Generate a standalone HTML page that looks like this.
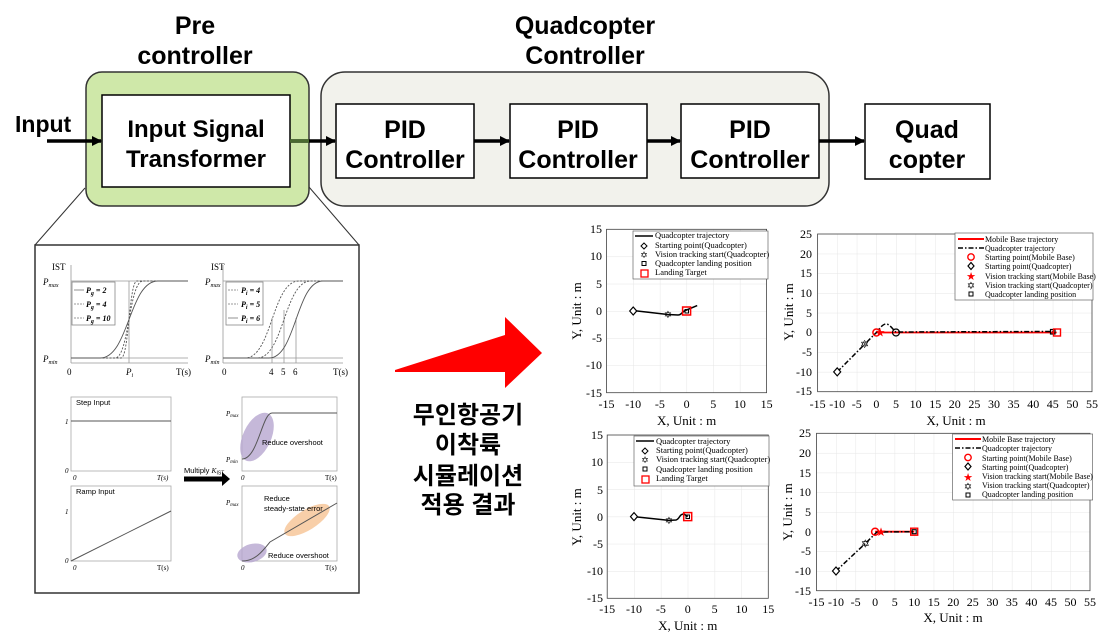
<!DOCTYPE html>
<html><head><meta charset="utf-8"><style>
html,body{margin:0;padding:0;background:#fff;}
svg{display:block;}
.b{font-family:"Liberation Sans",sans-serif;font-weight:bold;fill:#000;}
.s{font-family:"Liberation Serif",serif;fill:#000;}
.k{font-family:"Liberation Sans","Noto Sans CJK KR",sans-serif;font-weight:bold;fill:#000;}
</style></head><body>
<svg width="1100" height="633" viewBox="0 0 1100 633" xmlns="http://www.w3.org/2000/svg">
<defs>
<marker id="ah" markerWidth="10" markerHeight="10" refX="9" refY="5" orient="auto" markerUnits="userSpaceOnUse"><path d="M0,0 L10,5 L0,10 z" fill="#000"/></marker>
<pattern id="g1" x="606.5" y="229.3" width="26.68" height="27.23" patternUnits="userSpaceOnUse"><path d="M0,0 V27.23 M0,0 H26.68" stroke="#e6e6e6" stroke-width="1" fill="none"/></pattern>
<pattern id="g2" x="817.6" y="234" width="19.6" height="19.7" patternUnits="userSpaceOnUse"><path d="M0,0 V19.7 M0,0 H19.6" stroke="#e6e6e6" stroke-width="1" fill="none"/></pattern>
<pattern id="g3" x="607.2" y="435" width="26.85" height="27.2" patternUnits="userSpaceOnUse"><path d="M0,0 V27.2 M0,0 H26.85" stroke="#e6e6e6" stroke-width="1" fill="none"/></pattern>
<pattern id="g4" x="816.5" y="433.3" width="19.54" height="19.68" patternUnits="userSpaceOnUse"><path d="M0,0 V19.68 M0,0 H19.54" stroke="#e6e6e6" stroke-width="1" fill="none"/></pattern>
</defs>

<!-- Top block diagram -->
<text class="b" x="195" y="34" font-size="25" text-anchor="middle">Pre</text>
<text class="b" x="195" y="64" font-size="25" text-anchor="middle">controller</text>
<text class="b" x="585" y="34" font-size="25" text-anchor="middle">Quadcopter</text>
<text class="b" x="585" y="64" font-size="25" text-anchor="middle">Controller</text>

<rect x="86" y="72" width="223" height="134" rx="16" fill="#cfe8a9" stroke="#333" stroke-width="1.5"/>
<rect x="102" y="95" width="188" height="92" fill="#fff" stroke="#000" stroke-width="1.5"/>
<text class="b" x="196" y="137" font-size="24" text-anchor="middle">Input Signal</text>
<text class="b" x="196" y="167" font-size="24" text-anchor="middle">Transformer</text>

<rect x="321" y="72" width="508" height="134" rx="24" fill="#f2f2ec" stroke="#333" stroke-width="1.5"/>
<rect x="336" y="104" width="138" height="74" fill="#fff" stroke="#000" stroke-width="1.5"/>
<rect x="510" y="104" width="137" height="74" fill="#fff" stroke="#000" stroke-width="1.5"/>
<rect x="681" y="104" width="138" height="74" fill="#fff" stroke="#000" stroke-width="1.5"/>
<rect x="865" y="104" width="125" height="75" fill="#fff" stroke="#000" stroke-width="1.5"/>
<text class="b" x="405" y="138" font-size="25" text-anchor="middle">PID</text>
<text class="b" x="405" y="168" font-size="25" text-anchor="middle">Controller</text>
<text class="b" x="578" y="138" font-size="25" text-anchor="middle">PID</text>
<text class="b" x="578" y="168" font-size="25" text-anchor="middle">Controller</text>
<text class="b" x="750" y="138" font-size="25" text-anchor="middle">PID</text>
<text class="b" x="750" y="168" font-size="25" text-anchor="middle">Controller</text>
<text class="b" x="927" y="138" font-size="25" text-anchor="middle">Quad</text>
<text class="b" x="927" y="168" font-size="25" text-anchor="middle">copter</text>

<text class="b" x="15" y="132" font-size="23">Input</text>
<g stroke="#000" stroke-width="3.5" marker-end="url(#ah)">
<line x1="47" y1="141" x2="101" y2="141"/>
<line x1="290" y1="141" x2="335" y2="141"/>
<line x1="474" y1="141" x2="509" y2="141"/>
<line x1="647" y1="141" x2="680" y2="141"/>
<line x1="819" y1="141" x2="864" y2="141"/>
</g>
<line x1="290" y1="141" x2="309" y2="141" stroke="#4a6a30" stroke-width="3.5"/>

<!-- inset -->
<line x1="85" y1="188" x2="35" y2="245" stroke="#333" stroke-width="1"/>
<line x1="309" y1="187" x2="359" y2="245" stroke="#333" stroke-width="1"/>
<rect x="35" y="245" width="324" height="348" fill="#fff" stroke="#333" stroke-width="1.5"/>

<g class="s" font-size="9">
<text x="52" y="270">IST</text>
<text x="43" y="285" font-style="italic">P<tspan font-size="6" dy="2">max</tspan></text>
<text x="43" y="362" font-style="italic">P<tspan font-size="6" dy="2">min</tspan></text>
<text x="67" y="375">0</text>
<text x="126" y="375" font-style="italic">P<tspan font-size="6" dy="2">i</tspan></text>
<text x="176" y="375">T(s)</text>
<text x="211" y="270">IST</text>
<text x="205" y="285" font-style="italic">P<tspan font-size="6" dy="2">max</tspan></text>
<text x="205" y="362" font-style="italic">P<tspan font-size="6" dy="2">min</tspan></text>
<text x="222" y="375">0</text>
<text x="269" y="375">4</text>
<text x="281" y="375">5</text>
<text x="293" y="375">6</text>
<text x="333" y="375">T(s)</text>
</g>
<g stroke="#999" stroke-width="0.8" fill="none">
<line x1="71" y1="265" x2="71" y2="363"/><line x1="71" y1="363" x2="188" y2="363"/>
<line x1="71" y1="281" x2="188" y2="281"/><line x1="71" y1="358" x2="188" y2="358"/>
<line x1="129" y1="281" x2="129" y2="363"/>
<line x1="223" y1="265" x2="223" y2="363"/><line x1="223" y1="363" x2="343" y2="363"/>
<line x1="223" y1="281" x2="343" y2="281"/><line x1="223" y1="358" x2="343" y2="358"/>
<line x1="272" y1="318" x2="272" y2="363"/><line x1="284" y1="310" x2="284" y2="363"/><line x1="296" y1="318" x2="296" y2="363"/>
</g>
<g stroke="#555" stroke-width="0.9" fill="none">
<path d="M71,358 L100,358 C129,358 129,281 158,281 L188,281"/>
<path d="M71,358 L115,358 C129,358 129,281 143,281 L188,281" stroke-dasharray="2,1.5"/>
<path d="M71,358 L121,358 C129,358 129,281 137,281 L188,281" stroke-dasharray="2,1.5"/>
<path d="M223,358 L245,358 C272,358 272,281 299,281 L343,281" stroke-dasharray="2,1.5"/>
<path d="M223,358 L257,358 C284,358 284,281 311,281 L343,281" stroke-dasharray="2,1.5"/>
<path d="M223,358 L269,358 C296,358 296,281 323,281 L343,281"/>
</g>
<rect x="72" y="282" width="43" height="43" fill="#fff" stroke="#888" stroke-width="0.8"/>
<rect x="226" y="282" width="37" height="43" fill="#fff" stroke="#888" stroke-width="0.8"/>
<g class="s" font-size="8" font-weight="bold" font-style="italic">
<text x="86" y="293">P<tspan font-size="6" dy="2">g</tspan><tspan dy="-2"> = 2</tspan></text>
<text x="86" y="307">P<tspan font-size="6" dy="2">g</tspan><tspan dy="-2"> = 4</tspan></text>
<text x="86" y="321">P<tspan font-size="6" dy="2">g</tspan><tspan dy="-2"> = 10</tspan></text>
<text x="241" y="293">P<tspan font-size="6" dy="2">i</tspan><tspan dy="-2"> = 4</tspan></text>
<text x="241" y="307">P<tspan font-size="6" dy="2">i</tspan><tspan dy="-2"> = 5</tspan></text>
<text x="241" y="321">P<tspan font-size="6" dy="2">i</tspan><tspan dy="-2"> = 6</tspan></text>
</g>
<g stroke="#777" stroke-width="0.8">
<line x1="74" y1="290" x2="84" y2="290"/><line x1="74" y1="304" x2="84" y2="304" stroke-dasharray="2,1"/><line x1="74" y1="318" x2="84" y2="318" stroke-dasharray="2,1"/>
<line x1="228" y1="290" x2="238" y2="290" stroke-dasharray="2,1"/><line x1="228" y1="304" x2="238" y2="304" stroke-dasharray="2,1"/><line x1="228" y1="318" x2="238" y2="318"/>
</g>

<g fill="none" stroke="#aaa" stroke-width="0.8">
<rect x="71" y="397" width="100" height="74"/>
<rect x="71" y="486" width="100" height="75"/>
<rect x="242" y="397" width="95" height="74"/>
<rect x="242" y="486" width="95" height="75"/>
</g>
<ellipse cx="257" cy="437" rx="14" ry="26" transform="rotate(25 257 437)" fill="#b7a6cf" opacity="0.8"/>
<ellipse cx="307" cy="520" rx="26" ry="10" transform="rotate(-32 307 520)" fill="#f7c79a" opacity="0.85"/>
<ellipse cx="252" cy="553" rx="15" ry="9" transform="rotate(-15 252 553)" fill="#b7a6cf" opacity="0.8"/>
<g stroke="#555" stroke-width="1" fill="none">
<line x1="71" y1="421" x2="171" y2="421"/>
<line x1="71" y1="561" x2="171" y2="511"/>
<path d="M242,459 C258,459 262,413 272,413 L337,413"/>
<path d="M242,561 C255,561 262,552 270,542 L337,503"/>
</g>
<g font-family="Liberation Sans,sans-serif" font-size="7.5" fill="#000">
<text x="76" y="405">Step Input</text>
<text x="76" y="494">Ramp Input</text>
<text x="262" y="445">Reduce overshoot</text>
<text x="264" y="501">Reduce</text>
<text x="264" y="511">steady-state error</text>
<text x="268" y="558">Reduce overshoot</text>
<text x="184" y="473">Multiply <tspan font-style="italic" font-family="Liberation Serif,serif">K</tspan><tspan font-size="5" dy="1.5">IST</tspan></text>
</g>
<g class="s" font-size="7" font-style="italic">
<text x="65" y="424">1</text><text x="65" y="473">0</text><text x="73" y="480">0</text><text x="157" y="480">T(s)</text>
<text x="65" y="514">1</text><text x="65" y="563">0</text><text x="73" y="570">0</text><text x="157" y="570" font-style="normal">T(s)</text>
<text x="226" y="416">P<tspan font-size="5" dy="1">max</tspan></text>
<text x="226" y="462">P<tspan font-size="5" dy="1">min</tspan></text>
<text x="241" y="480">0</text><text x="325" y="480" font-style="normal">T(s)</text>
<text x="226" y="505">P<tspan font-size="5" dy="1">max</tspan></text>
<text x="241" y="570">0</text><text x="325" y="570" font-style="normal">T(s)</text>
</g>
<line x1="184" y1="479" x2="222" y2="479" stroke="#000" stroke-width="5"/>
<path d="M222,472 L230,479 L222,486 z" fill="#000"/>

<polygon points="395,370 505,335 505,317 542,353 505,388 505,372 395,372" fill="#ff0000"/>
<g class="k" font-size="24" text-anchor="middle">
<text x="468" y="423">무인항공기</text>
<text x="468" y="453">이착륙</text>
<text x="468" y="484">시뮬레이션</text>
<text x="468" y="513">적용 결과</text>
</g>

<!-- Plot TL -->
<rect x="606.5" y="229.3" width="160.1" height="163.4" fill="url(#g1)" stroke="#444" stroke-width="0.8"/>
<g class="s" font-size="12" text-anchor="end">
<text x="602" y="233">15</text><text x="602" y="260">10</text><text x="602" y="288">5</text><text x="602" y="315">0</text><text x="602" y="342">-5</text><text x="602" y="369">-10</text><text x="602" y="397">-15</text>
</g>
<g class="s" font-size="12" text-anchor="middle">
<text x="606.5" y="408">-15</text><text x="633.2" y="408">-10</text><text x="659.9" y="408">-5</text><text x="686.6" y="408">0</text><text x="713.2" y="408">5</text><text x="739.9" y="408">10</text><text x="766.6" y="408">15</text>
<text x="686.6" y="425" font-size="13">X, Unit : m</text>
<text x="0" y="0" font-size="13" transform="translate(581,311) rotate(-90)">Y, Unit : m</text>
</g>
<rect x="633" y="231" width="135" height="48" fill="#fff" stroke="#666" stroke-width="0.7"/>
<g class="s" font-size="8.5">
<text x="655" y="238">Quadcopter trajectory</text>
<text x="655" y="248">Starting point(Quadcopter)</text>
<text x="655" y="257">Vision tracking start(Quadcopter)</text>
<text x="655" y="266">Quadcopter landing position</text>
<text x="655" y="275">Landing Target</text>
</g>
<line x1="635" y1="236" x2="653" y2="236" stroke="#000" stroke-width="1.5"/>
<path d="M644,243 l3,3 l-3,3 l-3,-3z" fill="none" stroke="#000"/>
<text x="644" y="258" font-size="9" text-anchor="middle">✡</text>
<rect x="642" y="261.5" width="4" height="4" fill="none" stroke="#000"/>
<rect x="641" y="270" width="7" height="7" fill="none" stroke="#f00" stroke-width="1.3"/>
<path d="M633.2,310.5 L667.9,314.5 L678,315 C682,315 682,311 686.6,310 L697.2,305.6" fill="none" stroke="#000" stroke-width="1.5"/>
<path d="M633.2,307 l3.5,4 l-3.5,4 l-3.5,-4z" fill="#fff" stroke="#000" stroke-width="1.2"/>
<text x="668" y="318" font-size="10" text-anchor="middle">✡</text>
<rect x="682.6" y="307" width="8" height="8" fill="none" stroke="#f00" stroke-width="1.5"/>
<rect x="685" y="309.5" width="3.5" height="3.5" fill="none" stroke="#000"/>

<!-- Plot TR -->
<rect x="817.6" y="234" width="274.4" height="157.7" fill="url(#g2)" stroke="#444" stroke-width="0.8"/>
<g class="s" font-size="12" text-anchor="end">
<text x="812" y="238">25</text><text x="812" y="258">20</text><text x="812" y="277">15</text><text x="812" y="297">10</text><text x="812" y="317">5</text><text x="812" y="336">0</text><text x="812" y="356">-5</text><text x="812" y="376">-10</text><text x="812" y="395">-15</text>
</g>
<g class="s" font-size="12" text-anchor="middle">
<text x="817.6" y="408">-15</text><text x="837.2" y="408">-10</text><text x="856.8" y="408">-5</text><text x="876.4" y="408">0</text><text x="896" y="408">5</text><text x="915.6" y="408">10</text><text x="935.2" y="408">15</text><text x="954.8" y="408">20</text><text x="974.4" y="408">25</text><text x="994" y="408">30</text><text x="1013.6" y="408">35</text><text x="1033.2" y="408">40</text><text x="1052.8" y="408">45</text><text x="1072.4" y="408">50</text><text x="1092" y="408">55</text>
<text x="956" y="425" font-size="13">X, Unit : m</text>
<text x="0" y="0" font-size="13" transform="translate(793,312) rotate(-90)">Y, Unit : m</text>
</g>
<rect x="955" y="233" width="138" height="67" fill="#fff" stroke="#666" stroke-width="0.7"/>
<g class="s" font-size="8">
<text x="985" y="242">Mobile Base trajectory</text>
<text x="985" y="251">Quadcopter trajectory</text>
<text x="985" y="260">Starting point(Mobile Base)</text>
<text x="985" y="269">Starting point(Quadcopter)</text>
<text x="985" y="279">Vision tracking start(Mobile Base)</text>
<text x="985" y="288">Vision tracking start(Quadcopter)</text>
<text x="985" y="297">Quadcopter landing position</text>
</g>
<line x1="958" y1="239" x2="984" y2="239" stroke="#f00" stroke-width="2"/>
<line x1="958" y1="248" x2="984" y2="248" stroke="#000" stroke-width="1.5" stroke-dasharray="5,2,1.5,2"/>
<circle cx="971" cy="257" r="3.2" fill="none" stroke="#f00" stroke-width="1.4"/>
<path d="M971,262.5 l3,3.5 l-3,3.5 l-3,-3.5z" fill="none" stroke="#000" stroke-width="1.2"/>
<text x="971" y="280" font-size="11" text-anchor="middle" fill="#f00">★</text>
<text x="971" y="289" font-size="10" text-anchor="middle">✡</text>
<rect x="969" y="292" width="4" height="4" fill="none" stroke="#000"/>
<line x1="876.4" y1="332.5" x2="1056.7" y2="332.5" stroke="#f00" stroke-width="1.8"/>
<path d="M837.2,371.9 L864.6,344.3 L876.4,332.5 C880,328 884,322 888.2,324.6 C892,327 894,331 896,332 L1052.8,331.5" fill="none" stroke="#000" stroke-width="1.5" stroke-dasharray="5,2,1.5,2"/>
<path d="M837.2,367.9 l3.5,4 l-3.5,4 l-3.5,-4z" fill="#fff" stroke="#000" stroke-width="1.2"/>
<text x="864.6" y="348" font-size="11" text-anchor="middle">✡</text>
<circle cx="876.4" cy="332.5" r="3.5" fill="none" stroke="#f00" stroke-width="1.5"/>
<text x="880" y="336.5" font-size="12" text-anchor="middle" fill="#f00">★</text>
<circle cx="896" cy="332.5" r="3.5" fill="none" stroke="#000" stroke-width="1.2"/>
<rect x="1050.5" y="329.5" width="4.5" height="4.5" fill="none" stroke="#000" stroke-width="1.2"/>
<rect x="1053.5" y="329" width="7" height="7" fill="none" stroke="#f00" stroke-width="1.4"/>

<!-- Plot BL -->
<rect x="607.2" y="435" width="161.1" height="163.3" fill="url(#g3)" stroke="#444" stroke-width="0.8"/>
<g class="s" font-size="12" text-anchor="end">
<text x="603" y="439">15</text><text x="603" y="466">10</text><text x="603" y="494">5</text><text x="603" y="521">0</text><text x="603" y="548">-5</text><text x="603" y="575">-10</text><text x="603" y="602">-15</text>
</g>
<g class="s" font-size="12" text-anchor="middle">
<text x="607.2" y="613">-15</text><text x="634" y="613">-10</text><text x="660.9" y="613">-5</text><text x="687.7" y="613">0</text><text x="714.6" y="613">5</text><text x="741.5" y="613">10</text><text x="768.3" y="613">15</text>
<text x="687.7" y="630" font-size="13">X, Unit : m</text>
<text x="0" y="0" font-size="13" transform="translate(581,517) rotate(-90)">Y, Unit : m</text>
</g>
<rect x="634" y="436" width="135" height="50" fill="#fff" stroke="#666" stroke-width="0.7"/>
<g class="s" font-size="8.5">
<text x="656" y="444">Quadcopter trajectory</text>
<text x="656" y="453">Starting point(Quadcopter)</text>
<text x="656" y="462">Vision tracking start(Quadcopter)</text>
<text x="656" y="472">Quadcopter landing position</text>
<text x="656" y="481">Landing Target</text>
</g>
<line x1="636" y1="441" x2="654" y2="441" stroke="#000" stroke-width="1.5"/>
<path d="M645,448 l3,3 l-3,3 l-3,-3z" fill="none" stroke="#000"/>
<text x="645" y="463" font-size="9" text-anchor="middle">✡</text>
<rect x="643" y="467" width="4" height="4" fill="none" stroke="#000"/>
<rect x="642" y="476" width="7" height="7" fill="none" stroke="#f00" stroke-width="1.3"/>
<path d="M634,516.6 L669,520.4 L676,520 C680,519 679,514 684,514 L687.7,516.6" fill="none" stroke="#000" stroke-width="1.5"/>
<path d="M634,512.6 l3.5,4 l-3.5,4 l-3.5,-4z" fill="#fff" stroke="#000" stroke-width="1.2"/>
<text x="669" y="524" font-size="10" text-anchor="middle">✡</text>
<rect x="683.7" y="512.6" width="8" height="8" fill="none" stroke="#f00" stroke-width="1.5"/>
<rect x="686" y="515" width="3.5" height="3.5" fill="none" stroke="#000"/>

<!-- Plot BR -->
<rect x="816.5" y="433.3" width="273.5" height="157.4" fill="url(#g4)" stroke="#444" stroke-width="0.8"/>
<g class="s" font-size="12" text-anchor="end">
<text x="811" y="437">25</text><text x="811" y="457">20</text><text x="811" y="477">15</text><text x="811" y="496">10</text><text x="811" y="516">5</text><text x="811" y="536">0</text><text x="811" y="555">-5</text><text x="811" y="575">-10</text><text x="811" y="595">-15</text>
</g>
<g class="s" font-size="12" text-anchor="middle">
<text x="816.5" y="606">-15</text><text x="836" y="606">-10</text><text x="855.6" y="606">-5</text><text x="875.1" y="606">0</text><text x="894.7" y="606">5</text><text x="914.2" y="606">10</text><text x="933.7" y="606">15</text><text x="953.3" y="606">20</text><text x="972.8" y="606">25</text><text x="992.4" y="606">30</text><text x="1011.9" y="606">35</text><text x="1031.4" y="606">40</text><text x="1051" y="606">45</text><text x="1070.5" y="606">50</text><text x="1090" y="606">55</text>
<text x="953" y="622" font-size="13">X, Unit : m</text>
<text x="0" y="0" font-size="13" transform="translate(792,512) rotate(-90)">Y, Unit : m</text>
</g>
<rect x="952.6" y="434" width="140" height="66" fill="#fff" stroke="#666" stroke-width="0.7"/>
<g class="s" font-size="8">
<text x="982" y="442">Mobile Base trajectory</text>
<text x="982" y="451">Quadcopter trajectory</text>
<text x="982" y="461">Starting point(Mobile Base)</text>
<text x="982" y="470">Starting point(Quadcopter)</text>
<text x="982" y="479">Vision tracking start(Mobile Base)</text>
<text x="982" y="488">Vision tracking start(Quadcopter)</text>
<text x="982" y="497">Quadcopter landing position</text>
</g>
<line x1="955" y1="439" x2="981" y2="439" stroke="#f00" stroke-width="2"/>
<line x1="955" y1="448" x2="981" y2="448" stroke="#000" stroke-width="1.5" stroke-dasharray="5,2,1.5,2"/>
<circle cx="968" cy="457.5" r="3.2" fill="none" stroke="#f00" stroke-width="1.4"/>
<path d="M968,463 l3,3.5 l-3,3.5 l-3,-3.5z" fill="none" stroke="#000" stroke-width="1.2"/>
<text x="968" y="481" font-size="11" text-anchor="middle" fill="#f00">★</text>
<text x="968" y="490" font-size="10" text-anchor="middle">✡</text>
<rect x="966" y="493" width="4" height="4" fill="none" stroke="#000"/>
<line x1="875.1" y1="531.7" x2="914.2" y2="531.7" stroke="#f00" stroke-width="1.8"/>
<path d="M836,571 L865.3,543.5 L877,532 L914.2,531.7" fill="none" stroke="#000" stroke-width="1.5" stroke-dasharray="5,2,1.5,2"/>
<path d="M836,567 l3.5,4 l-3.5,4 l-3.5,-4z" fill="#fff" stroke="#000" stroke-width="1.2"/>
<text x="865.3" y="547.5" font-size="11" text-anchor="middle">✡</text>
<circle cx="875.1" cy="531.7" r="3.5" fill="none" stroke="#f00" stroke-width="1.5"/>
<text x="881" y="536" font-size="12" text-anchor="middle" fill="#f00">★</text>
<rect x="910.7" y="528.2" width="7" height="7" fill="none" stroke="#f00" stroke-width="1.4"/>
<rect x="912.2" y="529.7" width="4" height="4" fill="none" stroke="#000" stroke-width="1.1"/>
</svg>
</body></html>
